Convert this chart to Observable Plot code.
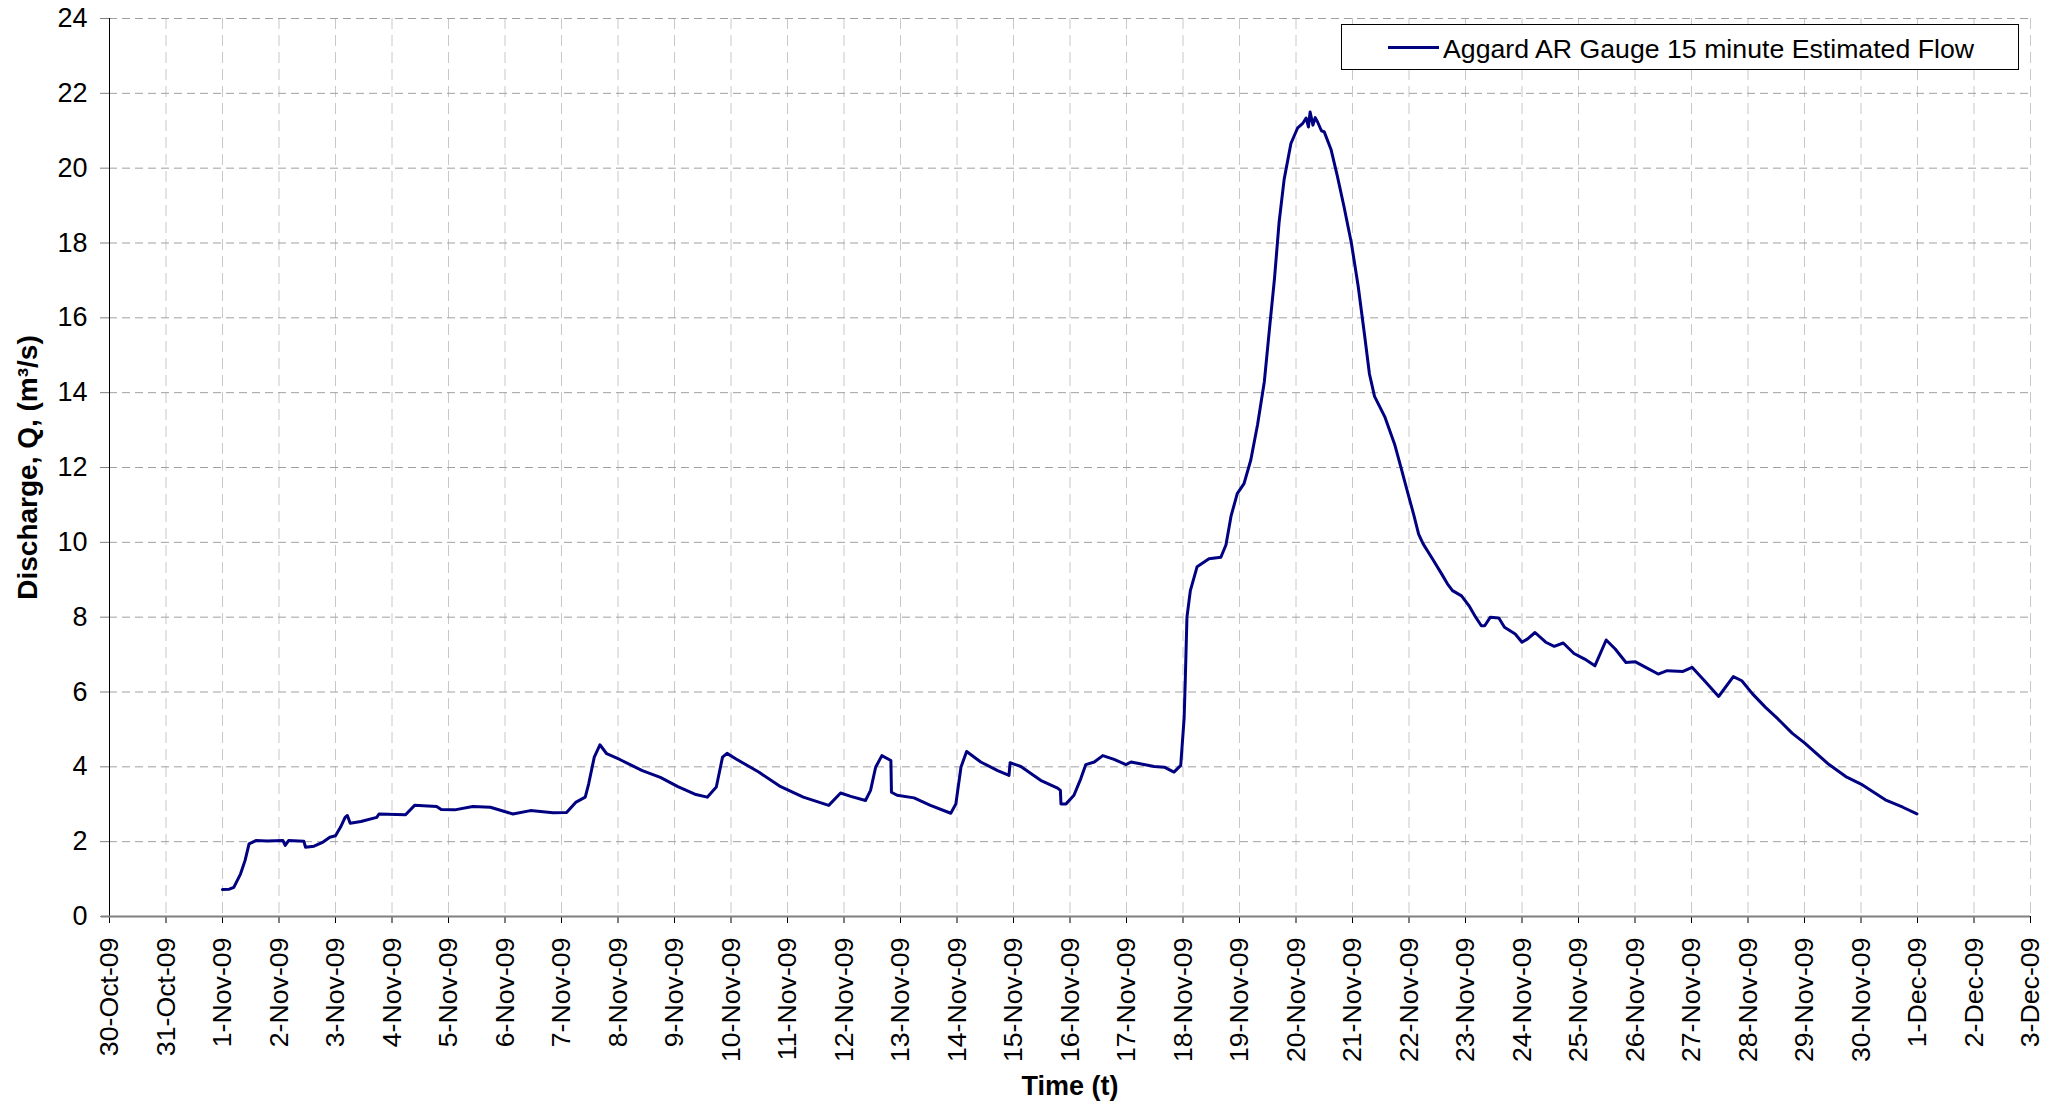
<!DOCTYPE html>
<html><head><meta charset="utf-8">
<script src="https://cdn.jsdelivr.net/npm/d3@7"></script>
<script src="https://cdn.jsdelivr.net/npm/@observablehq/plot@0.6"></script>
<style>
html,body{margin:0;padding:0;background:#fff;}
#wrap{position:relative;width:2057px;height:1103px;}
#legend{position:absolute;left:1341px;top:24px;width:676px;height:44px;border:1px solid #000;background:#fff;font-family:"Liberation Sans",Arial,Helvetica,sans-serif;font-size:26.7px;display:flex;align-items:center;z-index:2;color:#000;}
#legend .sw{display:inline-block;width:51px;height:3px;background:#000080;margin-left:46px;margin-right:4px;}
#legend .lt{position:relative;top:2px;}
</style></head><body>
<div id="wrap"><div id="legend"><span class="sw"></span><span class="lt">Aggard AR Gauge 15 minute Estimated Flow</span></div></div>
<script>
// days since 1-Nov-2009 00:00
const dayOffsets = [
0.00,0.12,0.20,0.32,0.40,0.47,0.59,0.79,1.07,1.11,1.17,1.44,1.47,1.62,1.78,1.90,2.00,2.09,2.17,2.21,2.26,2.45,2.73,2.77,3.24,3.40,3.79,3.87,4.11,4.43,4.74,5.14,5.45,5.85,6.09,6.25,6.42,6.48,6.58,6.68,6.80,7.04,7.43,7.75,8.06,8.38,8.58,8.74,8.85,8.93,9.09,9.49,9.88,10.28,10.73,
10.94,11.12,11.38,11.47,11.56,11.67,11.83,11.84,11.94,12.24,12.53,12.89,12.98,13.07,13.17,13.42,13.72,13.92,13.94,14.13,14.48,14.78,14.83,14.84,14.93,15.07,15.19,15.28,15.43,15.58,15.78,15.99,16.08,16.49,16.67,16.84,16.96,
17.02,17.04,17.07,17.13,17.25,17.46,17.67,17.76,17.85,17.96,18.08,18.20,18.32,18.44,18.53,18.62,18.70,18.79,18.91,19.03,19.12,19.18,19.22,19.25,19.30,19.34,19.38,19.45,19.50,19.62,19.73,19.85,19.98,20.10,20.21,20.30,20.39,20.57,20.75,20.86,20.92,21.00,21.08,21.17,21.25,21.42,21.58,21.68,21.77,21.93,22.06,22.18,22.28,22.34,22.44,22.59,22.69,22.88,23.00,23.10,23.23,23.42,23.57,23.73,23.92,24.11,24.29,24.49,24.65,24.84,25.00,25.19,25.41,25.57,25.85,26.01,26.23,26.48,26.74,26.89,27.08,27.31,27.53,27.78,28.00,28.41,28.73,29.00,29.43,29.74,29.99
];
const flows = [
0.72,0.73,0.78,1.14,1.50,1.94,2.03,2.02,2.03,1.90,2.03,2.01,1.85,1.88,1.99,2.12,2.16,2.39,2.65,2.70,2.49,2.54,2.65,2.74,2.72,2.97,2.94,2.86,2.85,2.94,2.92,2.74,2.83,2.77,2.78,3.05,3.19,3.54,4.26,4.59,4.35,4.19,3.90,3.72,3.47,3.26,3.19,3.46,4.26,4.36,4.21,3.86,3.47,3.19,2.97,
3.30,3.21,3.10,3.37,3.99,4.30,4.17,3.32,3.24,3.17,2.97,2.76,3.01,3.99,4.41,4.13,3.90,3.77,4.11,4.01,3.64,3.43,3.37,3.01,3.01,3.24,3.68,4.06,4.13,4.30,4.20,4.06,4.13,4.01,3.99,3.86,4.04,
5.30,6.30,8.00,8.71,9.35,9.56,9.60,9.93,10.70,11.30,11.57,12.20,13.15,14.30,15.70,17.06,18.54,19.70,20.66,21.08,21.20,21.34,21.10,21.50,21.15,21.35,21.24,21.00,20.97,20.50,19.80,18.97,18.00,16.85,15.58,14.50,13.90,13.36,12.60,11.99,11.65,11.20,10.76,10.22,9.96,9.55,9.15,8.89,8.71,8.57,8.31,8.00,7.77,7.77,8.00,7.98,7.73,7.55,7.33,7.42,7.59,7.33,7.22,7.31,7.03,6.88,6.70,7.39,7.15,6.79,6.81,6.66,6.48,6.57,6.55,6.66,6.30,5.88,6.41,6.30,5.95,5.59,5.28,4.90,4.64,4.09,3.74,3.54,3.12,2.92,2.74
];
const yTicks = [0,2,4,6,8,10,12,14,16,18,20,22,24];
const xStart = [2009, 9, 30];   // 30-Oct-09
const xEnd = [2009, 11, 3];     // 3-Dec-09
const seriesName = "Aggard AR Gauge 15 minute Estimated Flow";
const yTitle = "Discharge, Q, (m³/s)";
const xTitle = "Time (t)";

const t0 = Date.UTC(2009, 10, 1);
const data = dayOffsets.map((d, i) => ({date: new Date(t0 + d * 864e5), q: flows[i]}));
const x0 = new Date(Date.UTC(...xStart)), x1 = new Date(Date.UTC(...xEnd));
const days = d3.utcDay.range(x0, d3.utcDay.offset(x1, 1));
const fmt = d3.utcFormat("%-d-%b-%y");
const font = '"Liberation Sans", Arial, Helvetica, sans-serif';

const chart = Plot.plot({
  width: 2057, height: 1103,
  marginLeft: 109, marginRight: 27, marginTop: 18, marginBottom: 187,
  style: {fontFamily: font, fontSize: "26.7px", background: "#fff", color: "#000"},
  x: {type: "utc", domain: [x0, x1]},
  y: {domain: [0, 24]},
  marks: [
    Plot.gridX(days, {stroke: "#c8c8c8", strokeOpacity: 1, strokeDasharray: "11,6"}),
    Plot.gridY(yTicks.filter(v => v > 0), {stroke: "#a0a0a0", strokeOpacity: 1, strokeDasharray: "8,5"}),
    Plot.ruleX([x0], {stroke: "#000", strokeWidth: 1}),
    Plot.axisY(yTicks, {tickSize: 9, tickPadding: 13, stroke: "#808080", fill: "#000", label: null, fontSize: 27}),
    Plot.axisX(days, {tickSize: 7, tickPadding: 14, tickRotate: -90, tickFormat: fmt, label: null, stroke: "#000", fill: "#000", fontSize: 26.7}),
    Plot.ruleY([0], {stroke: "#808080", strokeWidth: 2, insetLeft: -8}),
    Plot.line(data, {x: "date", y: "q", stroke: "#000080", strokeWidth: 3}),
    Plot.text([yTitle], {text: d => d, frameAnchor: "left", textAnchor: "middle", rotate: -90, dx: -81, fontWeight: "bold", fontSize: 28}),
    Plot.text([xTitle], {text: d => d, frameAnchor: "bottom", dy: 178, fontWeight: "bold", fontSize: 27})
  ]
});
const wrap = document.getElementById("wrap");
wrap.insertBefore(chart, wrap.firstChild);
chart.style.position = "absolute"; chart.style.left = "0"; chart.style.top = "0";
</script>
</body></html>
